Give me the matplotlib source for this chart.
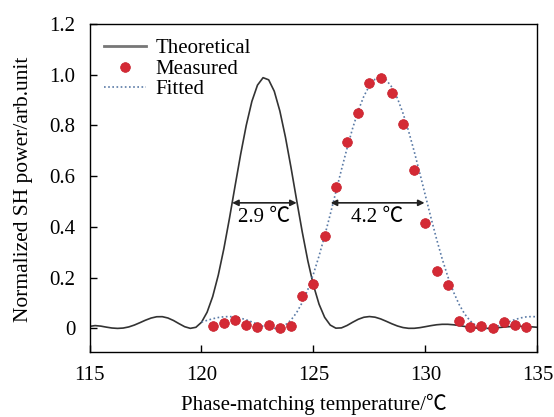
import matplotlib
matplotlib.use("Agg")
import matplotlib.pyplot as plt

# ---------------- data ----------------
theo_x = [115.0, 115.25, 115.5, 115.75, 116.0, 116.25, 116.5, 116.75, 117.0, 117.25,
          117.5, 117.75, 118.0, 118.25, 118.5, 118.75, 119.0, 119.25, 119.5, 119.75,
          120.0, 120.25, 120.5, 120.75, 121.0, 121.25, 121.5, 121.75, 122.0, 122.25,
          122.5, 122.75, 123.0, 123.25, 123.5, 123.75, 124.0, 124.25, 124.5, 124.75,
          125.0, 125.25, 125.5, 125.75, 126.0, 126.25, 126.5, 126.75, 127.0, 127.25,
          127.5, 127.75, 128.0, 128.25, 128.5, 128.75, 129.0, 129.25, 129.5, 129.75,
          130.0, 130.25, 130.5, 130.75, 131.0, 131.25, 131.5, 131.75, 132.0, 132.25,
          132.5, 132.75, 133.0, 133.25, 133.5, 133.75, 134.0, 134.25, 134.5, 134.75, 135.0]
theo_y = [0.008, 0.011, 0.009, 0.005, 0.0015, 0.0, 0.0013, 0.0057, 0.0131, 0.0225,
          0.0324, 0.0408, 0.0459, 0.0462, 0.0410, 0.0311, 0.0185, 0.0066, 0.0002, 0.0043,
          0.0241, 0.0637, 0.1255, 0.210, 0.3146, 0.4343, 0.5617, 0.687, 0.801, 0.895,
          0.959, 0.9885, 0.980, 0.935, 0.857, 0.7535, 0.633, 0.505, 0.380, 0.266,
          0.170, 0.0954, 0.0435, 0.0131, 0.0009, 0.0020, 0.0115, 0.0242, 0.0359, 0.0439,
          0.0467, 0.0442, 0.0374, 0.0281, 0.0182, 0.0095, 0.0033, 0.0003, 0.0004, 0.0029,
          0.0068, 0.0109, 0.0143, 0.0161, 0.0161, 0.0143, 0.0113, 0.0077, 0.0042, 0.0016,
          0.0002, 0.0001, 0.0012, 0.0030, 0.0051, 0.0069, 0.0080, 0.0082, 0.0075, 0.0061, 0.0043]

fit_x = [120.0, 120.25, 120.5, 120.75, 121.0, 121.25, 121.5, 121.75, 122.0, 122.25,
         122.5, 122.75, 123.0, 123.25, 123.5, 123.75, 124.0, 124.25, 124.5, 124.75,
         125.0, 125.25, 125.5, 125.75, 126.0, 126.25, 126.5, 126.75, 127.0, 127.25,
         127.5, 127.75, 128.0, 128.25, 128.5, 128.75, 129.0, 129.25, 129.5, 129.75,
         130.0, 130.25, 130.5, 130.75, 131.0, 131.25, 131.5, 131.75, 132.0, 132.25,
         132.5, 132.75, 133.0, 133.25, 133.5, 133.75, 134.0, 134.25, 134.5, 134.75, 135.0]
fit_y = [0.0249, 0.0317, 0.0380, 0.0429, 0.0459, 0.0467, 0.0448, 0.0404, 0.0338, 0.0255,
         0.0166, 0.0084, 0.0023, 0.0, 0.0033, 0.0139, 0.0332, 0.0625, 0.1024, 0.1533,
         0.2146, 0.2856, 0.3647, 0.4495, 0.5376, 0.6256, 0.710, 0.789, 0.8587, 0.915,
         0.9574, 0.9823, 0.990, 0.9795, 0.9514, 0.9072, 0.848, 0.7773, 0.6974, 0.6115,
         0.5234, 0.4356, 0.3515, 0.2737, 0.2042, 0.1444, 0.0953, 0.0571, 0.0295, 0.0117,
         0.0023, 0.0, 0.0030, 0.0096, 0.0180, 0.0269, 0.0349, 0.0413, 0.0453, 0.0467, 0.0456]

meas_x = [120.5, 121.0, 121.5, 122.0, 122.5, 123.0, 123.5, 124.0, 124.5, 125.0,
          125.5, 126.0, 126.5, 127.0, 127.5, 128.0, 128.5, 129.0, 129.5, 130.0,
          130.5, 131.0, 131.5, 132.0, 132.5, 133.0, 133.5, 134.0, 134.5]
meas_y = [0.009, 0.022, 0.032, 0.013, 0.005, 0.014, 0.001, 0.009, 0.128, 0.174,
          0.364, 0.558, 0.736, 0.848, 0.968, 0.987, 0.927, 0.806, 0.624, 0.414,
          0.227, 0.172, 0.030, 0.004, 0.009, 0.001, 0.026, 0.015, 0.005]

x_ticks = [115, 120, 125, 130, 135]
y_ticks = [0, 0.2, 0.4, 0.6, 0.8, 1.0, 1.2]
y_tick_labels = ["0", "0.2", "0.4", "0.6", "0.8", "1.0", "1.2"]

fwhm_theo = (121.37, 124.25, 0.495, "2.9 ℃")
fwhm_fit = (125.77, 129.96, 0.495, "4.2 ℃")

# ---------------- plot ----------------
plt.rcParams['font.family'] = ['Liberation Serif', 'DejaVu Serif', 'Noto Sans CJK SC']

fig = plt.figure(figsize=(5.54, 4.17), dpi=100)
ax = fig.add_axes([0.1616, 0.1547, 0.8084, 0.7877])

ax.plot(theo_x, theo_y, color='#333333', lw=1.2, label='Theoretical', zorder=2)
ax.plot(meas_x, meas_y, 'o', color='#d42a35', ms=7, mec='#c8202c', mew=0.5,
        label='Measured', zorder=4)
ax.plot(fit_x, fit_y, ls=(0, (1, 1.5)), color='#5a7aa6', lw=1.2, label='Fitted', zorder=3)

for (x0, x1, yy, txt) in (fwhm_theo, fwhm_fit):
    ax.annotate('', xy=(x0, yy), xytext=(x1, yy),
                arrowprops=dict(arrowstyle='<|-|>', color='#222222', lw=1.2,
                                mutation_scale=9, shrinkA=0, shrinkB=0))
    ax.text((x0 + x1) / 2, yy - 0.02, txt, ha='center', va='top', fontsize=15,
            family=['Liberation Serif', 'Noto Sans CJK SC'])

ax.set_xlim(115, 135)
ax.set_ylim(-0.095, 1.2)
ax.set_xticks(x_ticks)
ax.set_xticklabels([str(t) for t in x_ticks])
ax.set_yticks(y_ticks)
ax.set_yticklabels(y_tick_labels)
ax.tick_params(direction='in', length=5, width=1, labelsize=15, top=False, right=False)
ax.tick_params(axis='x', pad=10)
ax.tick_params(axis='y', pad=10)
for s in ax.spines.values():
    s.set_linewidth(1.0)
    s.set_color('black')

ax.set_xlabel('Phase-matching temperature/℃', fontsize=15,
              family=['Liberation Serif', 'Noto Sans CJK SC'])
ax.set_ylabel('Normalized SH power/arb.unit', fontsize=15.5)
ax.xaxis.set_label_coords(0.5, -0.125)
ax.yaxis.set_label_coords(-0.126, 0.497)

leg = ax.legend(loc='upper left', bbox_to_anchor=(0.0, 1.0), frameon=False,
                fontsize=15, handlelength=2.0, handletextpad=0.45,
                labelspacing=0.05, borderaxespad=0.3)
leg.legend_handles[0].set_color('#777777')
leg.legend_handles[0].set_linewidth(2)

fig.savefig('out.png', dpi=100)
